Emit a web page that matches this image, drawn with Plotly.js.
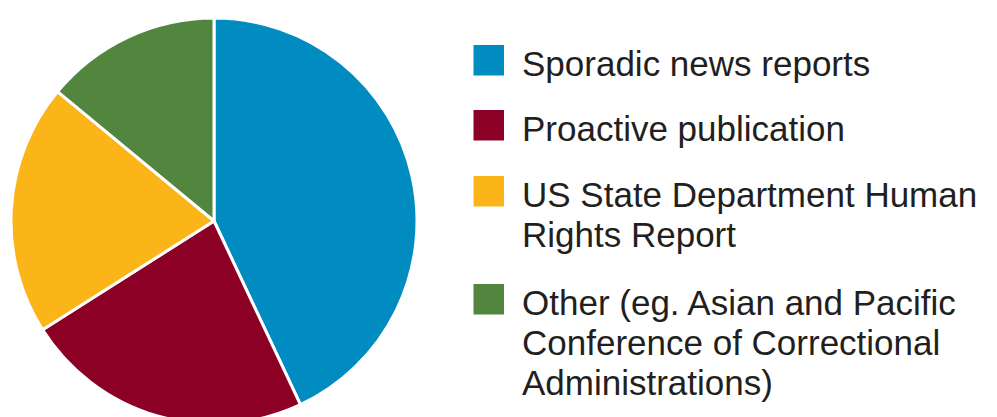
<!DOCTYPE html>
<html>
<head>
<meta charset="utf-8">
<script src="https://cdn.plot.ly/plotly-3.0.1.min.js"></script>
<style>
html, body { margin: 0; padding: 0; overflow: hidden; background: #fff; }
#chart { width: 997px; height: 440px; }
</style>
</head>
<body>
<div id="chart"></div>
<script>
// Data
const categories = [
  "Sporadic news reports",
  "Proactive publication",
  "US State Department Human<br>Rights Report",
  "Other (eg. Asian and Pacific<br>Conference of Correctional<br>Administrations)"
];
const shares = [43, 23, 20, 14];
const colors = ["#008cc1", "#8d0026", "#fbb518", "#52863e"];

// Layout geometry (pixels)
const W = 997, H = 440;
const legendTop = [45, 110, 176, 284];   // top of each legend swatch
const swatch = 30.5;
const lineGap = 40;
const textX = 521;
const fontSize = 35;

const px = x => x / W;
const py = y => 1 - y / H;

const shapes = [];
const annotations = [];
categories.forEach((lab, i) => {
  const top = legendTop[i];
  shapes.push({
    type: "rect", xref: "paper", yref: "paper",
    x0: px(473.5), x1: px(473.5 + swatch),
    y0: py(top + swatch), y1: py(top),
    fillcolor: colors[i], line: { width: 0 }
  });
  const baseline0 = top + swatch;
  lab.split("<br>").forEach((line, j) => {
    const baseline = baseline0 + j * lineGap;
    annotations.push({
      text: line, xref: "paper", yref: "paper",
      x: px(textX), y: py(baseline - 0.3465 * fontSize),
      xanchor: "left", yanchor: "middle", showarrow: false,
      borderpad: 0,
      font: { family: "Liberation Sans, Arial, sans-serif", size: fontSize, color: "#231f20" }
    });
  });
});

const trace = {
  type: "pie",
  labels: categories,
  values: shares,
  sort: false,
  direction: "clockwise",
  rotation: 0,
  marker: { colors: colors, line: { color: "#ffffff", width: 3 } },
  textinfo: "none",
  hoverinfo: "none",
  showlegend: false,
  domain: { x: [px(11), px(417)], y: [py(424), py(18)] }
};

Plotly.newPlot("chart", [trace], {
  width: W, height: H,
  margin: { l: 0, r: 0, t: 0, b: 0 },
  paper_bgcolor: "#ffffff",
  showlegend: false,
  shapes: shapes,
  annotations: annotations
}, { staticPlot: true, displayModeBar: false });
</script>
</body>
</html>
